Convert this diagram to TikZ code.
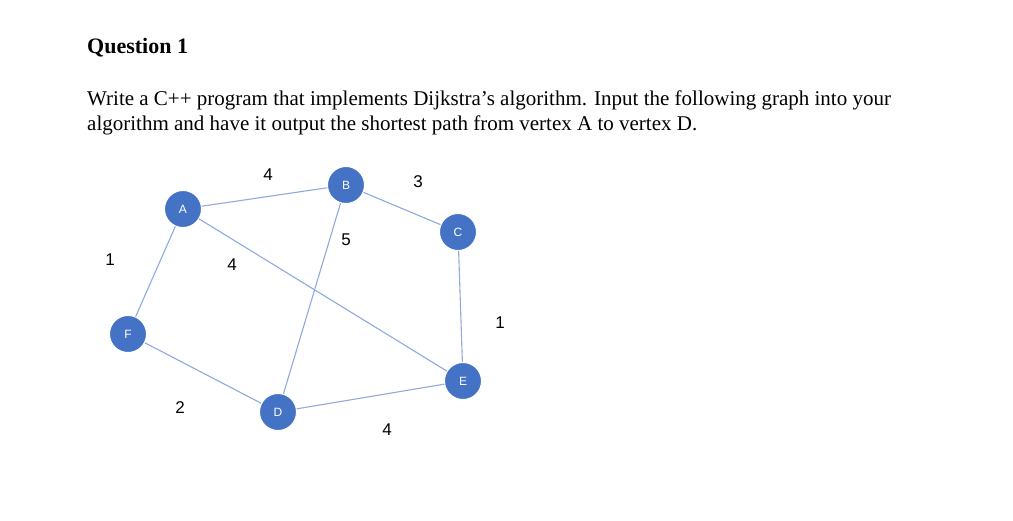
\documentclass[tikz,border=0pt]{standalone}
\usepackage{fontspec}
\setmainfont{Liberation Serif}
\newfontfamily\lsans{Liberation Sans}
\begin{document}
\begin{tikzpicture}[x=1pt,y=-1pt,
  vert/.style={circle,fill=vblue,draw=white,line width=1pt,minimum size=37pt,inner sep=0pt,text=white,font=\lsans\fontsize{12}{12}\selectfont},
  edge/.style={draw=eblue,line width=1.1pt},
  wlab/.style={font=\lsans\fontsize{17}{17}\selectfont,text=black},
  para/.style={anchor=base west,inner sep=0pt,font=\fontsize{21}{24}\selectfont}]
\definecolor{vblue}{HTML}{4472C4}
\definecolor{eblue}{HTML}{8FAADC}
\useasboundingbox (0,0) rectangle (1013,520);
\node[anchor=base west,inner sep=0pt,font=\bfseries\fontsize{22}{24}\selectfont] (q) at (87,53) {Question 1};
\node[para] (l1) at (87,105) {Write a C++ program that implements Dijkstra’s algorithm. Input the following graph into your};
\node[para] (l2) at (87,130) {algorithm and have it output the shortest path from vertex A to vertex D.};
\node[vert] (A) at (183,209) {A};
\node[vert] (B) at (346,185) {B};
\node[vert] (C) at (458,232) {C};
\node[vert] (E) at (463,381) {E};
\node[vert] (D) at (278,412) {D};
\node[vert] (F) at (128,334) {F};
\begin{scope}[on background layer/.style={}]
\end{scope}
\path[edge] (A) -- (B);
\path[edge] (B) -- (C);
\path[edge] (B) -- (D);
\path[edge] (A) -- (E);
\path[edge] (A) -- (F);
\path[edge] (F) -- (D);
\path[edge] (D) -- (E);
\path[edge] (C) -- (E);
\node[wlab] (wab) at (268,175) {4};
\node[wlab] (wbc) at (418,182) {3};
\node[wlab] (wbd) at (346,240) {5};
\node[wlab] (wae) at (232,265) {4};
\node[wlab] (waf) at (110,260) {1};
\node[wlab] (wfd) at (180,408) {2};
\node[wlab] (wde) at (387,430) {4};
\node[wlab] (wce) at (500,323) {1};
\end{tikzpicture}
\end{document}
